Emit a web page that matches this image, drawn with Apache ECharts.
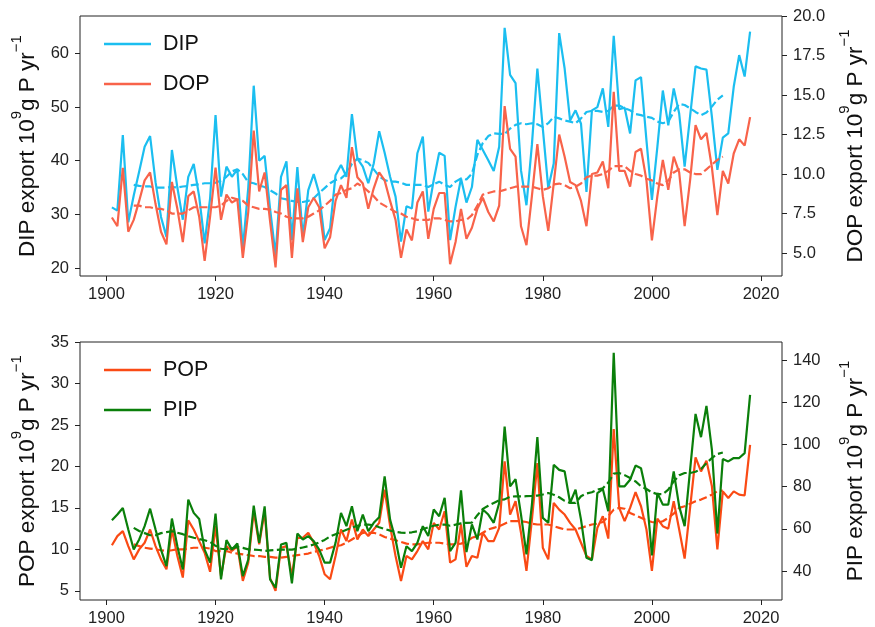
<!DOCTYPE html>
<html>
<head>
<meta charset="utf-8">
<script src="https://cdn.jsdelivr.net/npm/echarts@6/dist/echarts.min.js"></script>
<style>
html,body{margin:0;padding:0;background:#fff;}
#chart{width:875px;height:627px;}
</style>
</head>
<body>
<div id="chart"></div>
<script>
// ---- data ----
const years = [1901,1902,1903,1904,1905,1906,1907,1908,1909,1910,1911,1912,1913,1914,1915,1916,1917,1918,1919,1920,
1921,1922,1923,1924,1925,1926,1927,1928,1929,1930,1931,1932,1933,1934,1935,1936,1937,1938,1939,1940,
1941,1942,1943,1944,1945,1946,1947,1948,1949,1950,1951,1952,1953,1954,1955,1956,1957,1958,1959,1960,
1961,1962,1963,1964,1965,1966,1967,1968,1969,1970,1971,1972,1973,1974,1975,1976,1977,1978,1979,1980,
1981,1982,1983,1984,1985,1986,1987,1988,1989,1990,1991,1992,1993,1994,1995,1996,1997,1998,1999,2000,
2001,2002,2003,2004,2005,2006,2007,2008,2009,2010,2011,2012,2013,2014,2015,2016,2017,2018];

const dip = [31.3,30.7,44.8,28.5,33.5,38.0,42.6,44.6,36.0,29.5,25.8,42.0,35.0,29.0,37.0,39.4,33.3,24.6,33.0,48.5,
33.3,38.9,37.0,38.4,23.5,35.0,54.0,40.0,40.9,31.0,22.4,37.0,39.9,25.2,38.8,25.8,34.5,37.5,33.9,25.2,
27.4,37.3,39.2,37.0,48.7,40.4,38.9,35.8,39.5,45.5,41.5,37.0,33.3,24.9,31.5,31.1,41.4,44.5,30.5,36.4,
41.5,40.9,25.2,31.4,36.7,32.2,35.1,43.9,42.0,40.1,38.1,42.6,64.8,56.0,54.5,38.2,31.7,43.0,57.2,46.0,
34.9,39.5,63.8,57.2,47.5,49.4,46.9,34.2,49.4,50.0,53.5,46.3,63.3,49.6,49.9,45.1,55.0,55.6,43.8,32.7,
42.6,53.1,46.6,53.5,48.8,38.9,48.3,57.6,57.2,57.0,48.2,38.3,44.3,45.1,53.8,59.7,55.7,64.1];

const dop = [7.25,6.7,10.4,6.35,7.1,8.3,9.6,10.1,8.1,6.35,5.55,9.5,7.8,5.7,8.6,8.9,7.3,4.5,7.3,10.4,
7.1,8.7,8.2,8.4,4.7,7.6,12.75,8.9,10.1,7.0,4.1,9.0,9.3,4.7,9.1,5.7,7.9,8.5,7.9,5.3,
6.0,8.3,9.3,8.5,11.7,9.8,9.4,7.8,9.1,10.1,9.6,8.3,7.1,4.7,6.5,5.8,8.2,8.9,5.9,7.8,
8.8,8.8,4.3,5.7,7.8,5.9,6.6,7.8,8.5,7.6,7.0,8.0,14.3,11.6,11.1,6.7,5.5,8.6,11.9,8.6,
6.4,9.4,12.5,11.1,9.5,9.3,8.3,6.7,10.0,10.1,10.8,9.1,15.2,10.2,10.2,9.2,11.4,11.6,9.6,5.8,
8.6,10.9,9.0,11.1,10.1,6.7,9.6,13.1,12.2,12.6,10.4,7.4,10.2,9.4,11.3,12.2,11.8,13.6];

const pop = [10.5,11.6,12.2,10.4,8.8,10.0,10.8,12.4,10.4,8.8,7.6,12.4,9.2,6.6,13.5,12.4,11.0,9.6,7.3,12.8,
6.8,10.4,9.8,10.4,6.2,8.4,14.6,10.6,14.6,6.5,5.0,10.2,10.4,6.8,11.4,11.4,12.0,10.8,9.2,7.0,
6.4,9.2,12.4,11.0,13.6,11.2,12.4,11.6,12.4,13.2,17.2,12.8,9.2,6.2,9.2,8.8,9.8,11.0,10.0,13.2,
12.4,14.6,8.4,8.8,13.0,7.9,9.2,9.0,12.0,11.0,11.0,12.6,20.6,14.2,15.8,12.0,7.4,13.6,20.4,10.2,
8.8,15.6,14.8,14.2,13.2,12.4,10.8,9.2,8.8,12.6,14.0,11.3,24.5,15.0,13.4,15.0,16.9,15.2,12.4,7.4,
13.7,12.8,12.5,15.8,12.4,8.9,15.0,21.1,19.4,20.7,17.6,10.0,17.0,16.2,17.0,16.6,16.5,22.6];

const pip = [64.1,66.8,69.9,59.7,50.2,55.0,61.3,69.6,59.7,50.2,42.4,64.9,51.8,40.8,73.9,67.6,64.7,50.2,44.0,67.3,
36.1,54.7,50.2,53.1,37.6,45.5,71.0,53.4,70.7,36.1,32.1,52.6,53.4,34.2,57.8,55.0,56.6,54.2,50.2,44.0,
44.0,53.4,67.6,61.3,70.7,58.9,66.8,58.9,62.9,65.5,84.9,64.4,55.0,41.6,51.8,49.5,53.4,61.3,56.6,69.2,
66.0,74.7,49.5,53.4,78.3,49.0,62.1,55.0,69.2,66.8,62.9,72.3,108.5,80.2,83.6,66.8,47.9,71.5,103.5,65.2,
62.9,90.4,88.0,87.3,72.3,78.6,64.4,46.3,45.2,77.0,78.9,68.4,143.5,80.2,80.2,83.3,90.0,88.8,77.0,47.4,
77.0,71.5,71.5,87.3,70.7,61.3,88.0,114.5,103.5,118.3,97.5,57.8,93.1,92.0,93.6,93.6,95.9,123.5];

// running-mean curves (dashed), years 1905..2013
const maYears = years.slice(4, 113);
const dipMA = [35.5,35.3,35.2,35.2,35.0,35.0,35.0,35.1,35.0,35.2,35.3,35.5,35.6,35.8,35.8,35.9,36.3,37.0,38.0,38.4,37.5,36.0,35.8,35.4,35.1,
34.5,33.9,33.0,32.8,32.5,32.3,32.3,32.5,33.0,34.0,34.9,35.8,36.4,36.7,37.6,39.4,40.4,40.1,39.6,38.4,37.1,36.4,36.1,36.1,35.9,35.5,35.5,35.5,35.5,35.1,35.6,36.1,
35.5,35.1,36.1,36.7,36.5,37.6,41.1,43.3,44.6,45.1,45.0,45.0,46.0,46.7,47.0,46.8,47.0,46.8,46.3,47.0,48.2,47.9,47.5,47.3,47.0,47.9,49.1,49.3,49.3,49.1,49.3,
50.3,50.3,49.8,49.4,48.7,48.5,48.2,48.0,47.3,47.0,47.3,49.1,50.6,50.4,49.8,49.1,48.5,49.0,50.1,51.4,52.2];
const dopMA = [8.0,8.0,7.9,7.9,7.8,7.8,7.7,7.5,7.5,7.5,7.7,7.9,7.9,7.9,7.9,7.9,8.0,8.3,8.5,8.4,8.3,8.0,7.9,7.8,7.8,
7.75,7.6,7.5,7.3,7.2,7.2,7.2,7.3,7.5,7.7,8.0,8.3,8.7,8.8,9.0,9.1,9.4,9.2,8.9,8.6,8.2,8.0,7.8,7.6,7.5,7.3,7.2,7.1,7.1,7.1,7.2,7.2,
7.1,7.0,7.0,7.1,7.1,7.4,8.0,8.7,8.8,8.9,8.9,9.0,9.1,9.2,9.2,9.2,9.2,9.1,9.0,9.1,9.35,9.4,9.3,9.1,9.2,9.4,9.8,9.9,9.9,10.0,10.2,
10.5,10.5,10.5,10.2,10.0,9.9,9.7,9.6,9.4,9.3,9.6,10.1,10.3,10.3,10.1,10.0,10.0,10.3,10.6,10.9,11.1];
const popMA = [10.6,10.4,10.2,10.1,10.0,9.9,9.8,9.9,10.0,10.0,10.1,10.2,10.2,10.2,10.1,9.8,9.8,9.8,9.6,9.5,9.4,9.3,9.2,9.2,9.1,
9.1,9.0,9.0,9.1,9.2,9.3,9.4,9.5,9.7,9.85,10.0,10.2,10.4,10.5,10.8,11.2,11.6,12.0,12.0,12.0,11.8,11.5,11.3,11.1,10.9,10.7,10.6,10.6,10.7,10.8,10.8,10.8,
10.7,10.6,10.6,10.7,10.9,11.4,11.6,12.0,12.4,12.6,12.8,13.1,13.4,13.4,13.4,13.3,13.1,13.0,13.0,13.0,12.8,12.6,12.4,12.4,12.4,12.6,12.8,13.0,13.1,13.3,14.0,
14.8,15.0,14.9,14.4,14.1,13.8,13.5,13.3,13.2,13.4,13.8,14.3,15.0,15.2,15.5,15.8,16.0,16.3,16.6,17.0,17.1];
const pipMA = [60.5,59.0,58.0,57.0,57.0,58.0,58.5,58.9,58.2,57.5,56.5,55.8,55.2,54.6,53.8,52.0,50.6,50.4,50.8,51.5,51.0,50.3,50.2,50.0,49.6,
49.8,50.0,50.2,50.2,50.2,50.6,51.2,51.8,52.6,53.6,54.8,56.4,57.5,58.5,59.6,60.6,61.5,62.0,62.0,61.8,60.8,60.0,59.2,58.6,58.2,58.1,58.4,58.9,59.8,60.8,61.5,62.0,
62.1,61.5,62.0,62.6,62.9,63.0,66.5,69.5,71.0,72.3,73.6,74.0,75.3,75.4,75.4,75.5,75.6,75.8,76.3,77.0,76.2,75.0,73.3,72.3,72.3,75.5,76.8,77.4,78.6,79.3,82.0,
86.2,86.5,85.5,84.1,82.5,80.2,78.9,77.3,76.5,76.5,78.6,82.5,85.4,86.5,86.5,87.1,88.4,91.2,93.6,95.5,96.2];

// tick labels
const xTicks = [1900,1920,1940,1960,1980,2000,2020];
const dipTicks = [20,30,40,50,60];
const dopTicks = [5,7.5,10,12.5,15,17.5,20];
const popTicks = [5,10,15,20,25,30,35];
const pipTicks = [40,60,80,100,120,140];

// ---- chart ----
const FONT = "'Liberation Sans', Arial, sans-serif";
const C = {dip:'#1BBEF0', dop:'#F8634A', pop:'#FA4A14', pip:'#0A7F0A'};
const pair = (xs, vs) => xs.map((x, i) => [x, vs[i]]);

function xAxis(gi){
  return {type:'value', gridIndex:gi, min:1895.15, max:2023.85,
    axisLine:{show:false}, splitLine:{show:false},
    axisTick:{show:true, length:5, lineStyle:{color:'#222', width:1}, customValues:xTicks},
    axisLabel:{fontSize:16.5, color:'#222', fontFamily:FONT, margin:10, customValues:xTicks, formatter:v=>String(v)}};
}
function yAxis(gi, pos, min, max, ticks, name, gap, fmt){
  return {type:'value', gridIndex:gi, position:pos, min:min, max:max,
    axisLine:{show:false}, splitLine:{show:false},
    axisTick:{show:true, length:5, lineStyle:{color:'#222', width:1}, customValues:ticks},
    axisLabel:{fontSize:16.5, color:'#222', fontFamily:FONT, margin:11, customValues:ticks, formatter:fmt||(v=>String(v))},
    name:name, nameLocation:'middle', nameRotate:90, nameGap:gap,
    nameTextStyle:{color:'#111', fontFamily:FONT,
      rich:{n:{fontSize:22.5, fontFamily:FONT, color:'#111', lineHeight:30, verticalAlign:'bottom'},
            s:{fontSize:15, fontFamily:FONT, color:'#111', lineHeight:16, verticalAlign:'top'}}}};
}
const title = p => '{n|' + p + ' export 10}{s|9}{n|g P yr}{s|\u22121}';

function line(name, data, color, xi, yi, dashed, z){
  return {name:name, type:'line', xAxisIndex:xi, yAxisIndex:yi, data:data, symbol:'none',
    z:z, lineStyle:{color:color, width:2.2, type: dashed ? [8,3.5] : 'solid'}, itemStyle:{color:color},
    silent:true, animation:false};
}

const chart = echarts.init(document.getElementById('chart'), null, {renderer:'canvas'});
chart.setOption({
  animation:false,
  backgroundColor:'#fff',
  grid:[
    {left:80, top:16, width:710, height:260, show:true, borderColor:'#222', borderWidth:1, backgroundColor:'transparent'},
    {left:80, top:342, width:710, height:259, show:true, borderColor:'#222', borderWidth:1, backgroundColor:'transparent'}
  ],
  legend:[
    {data:['DIP','DOP'], orient:'vertical', left:99, top:26, icon:'rect', itemWidth:47, itemHeight:2.5, itemGap:14,
     textStyle:{fontSize:21.5, fontFamily:FONT, color:'#111', padding:[0,0,0,7], lineHeight:26}},
    {data:['POP','PIP'], orient:'vertical', left:99, top:352, icon:'rect', itemWidth:47, itemHeight:2.5, itemGap:14,
     textStyle:{fontSize:21.5, fontFamily:FONT, color:'#111', padding:[0,0,0,7], lineHeight:26}}
  ],
  xAxis:[xAxis(0), xAxis(1)],
  yAxis:[
    yAxis(0,'left',18.5,67.0,dipTicks,title('DIP'),39),
    yAxis(0,'right',3.55,20.0,dopTicks,title('DOP'),55,v=>v.toFixed(1)),
    yAxis(1,'left',3.9,35.0,popTicks,title('POP'),39),
    yAxis(1,'right',26.3,148.6,pipTicks,title('PIP'),55)
  ],
  series:[
    line('DIP', pair(years, dip), C.dip, 0, 0, false, 2),
    line('DIP MA', pair(maYears, dipMA), C.dip, 0, 0, true, 2),
    line('DOP', pair(years, dop), C.dop, 0, 1, false, 3),
    line('DOP MA', pair(maYears, dopMA), C.dop, 0, 1, true, 3),
    line('POP', pair(years, pop), C.pop, 1, 2, false, 2),
    line('POP MA', pair(maYears, popMA), C.pop, 1, 2, true, 2),
    line('PIP', pair(years, pip), C.pip, 1, 3, false, 3),
    line('PIP MA', pair(maYears, pipMA), C.pip, 1, 3, true, 3)
  ]
});
</script>
</body>
</html>
